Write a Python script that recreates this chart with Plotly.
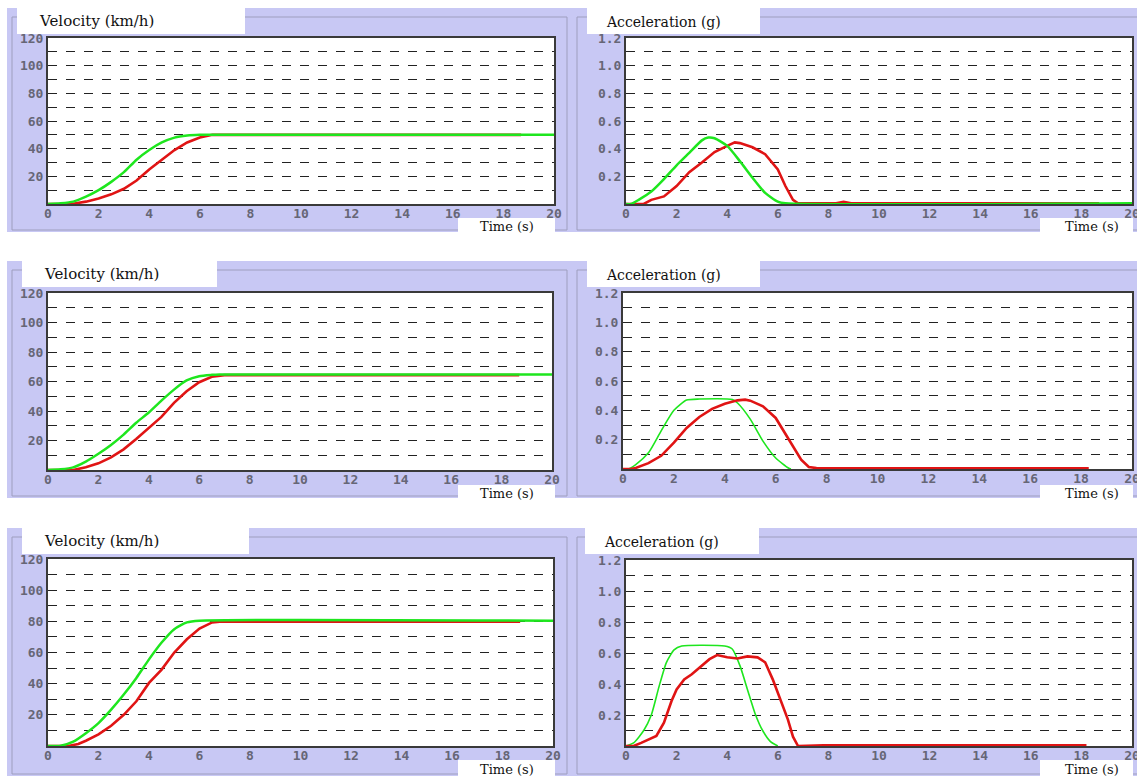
import plotly.graph_objects as go

W, H = 1137, 776

# ---------------- data ----------------
time_ticks = list(range(0, 21, 2))
vel_ticks = [20, 40, 60, 80, 100, 120]
acc_ticks = [0.2, 0.4, 0.6, 0.8, 1.0, 1.2]
acc_ticklabels = ["0.2", "0.4", "0.6", "0.8", "1.0", "1.2"]

# Row 1 (50 km/h)
t_v1_green = [0, 0.5, 1, 1.5, 2, 2.5, 3, 3.5, 4, 4.5, 5, 5.5, 6, 6.5, 20]
v1_green = [0, 0.5, 1.7, 5.3, 10, 16, 23, 32, 39, 44.5, 48, 49.5, 50, 50, 50]
t_v1_red = [0, 1, 1.5, 2, 2.5, 3, 3.5, 4, 4.5, 5, 5.5, 6, 6.5, 18.7]
v1_red = [0, 0.2, 1.7, 4, 7, 11, 17, 25, 32, 39, 44.5, 48, 50, 50]
t_a1_green = [0, 0.2, 0.5, 1, 1.5, 2, 2.5, 3, 3.25, 3.5, 4, 4.5, 5, 5.5, 6, 6.3, 20]
a1_green = [0, 0, 0.03, 0.09, 0.18, 0.28, 0.37, 0.46, 0.48, 0.475, 0.42, 0.31, 0.19, 0.08, 0.017, 0.005, 0.005]
t_a1_red = [0, 0.7, 1, 1.5, 2, 2.5, 3, 3.5, 4, 4.3, 4.5, 5, 5.5, 6, 6.3, 6.6, 6.8, 8.3, 8.6, 8.9, 18.7]
a1_red = [0, 0, 0.03, 0.055, 0.13, 0.23, 0.30, 0.375, 0.42, 0.445, 0.44, 0.41, 0.36, 0.25, 0.13, 0.03, 0.005, 0.005, 0.015, 0.005, 0.005]

# Row 2 (64 km/h)
t_v2_green = [0, 0.5, 1, 1.5, 2, 2.5, 3, 3.5, 4, 4.5, 5, 5.5, 6, 6.5, 6.8, 20]
v2_green = [0, 0.5, 1.8, 5.7, 11, 17, 24, 32, 39, 47, 54.5, 60.7, 63.6, 64.5, 64.8, 64.8]
t_v2_red = [0, 1, 1.5, 2, 2.5, 3, 3.5, 4, 4.5, 5, 5.5, 6, 6.5, 7, 7.2, 18.7]
v2_red = [0, 0, 1.8, 4.5, 8.6, 14, 21, 28.4, 36, 45.5, 53.4, 59.5, 63.2, 64.3, 64.3, 64.3]
t_a2_green = [0, 0.2, 0.5, 1, 1.5, 2, 2.5, 3, 4.3, 4.5, 5, 5.5, 6, 6.5, 6.6]
a2_green = [0, 0, 0.03, 0.11, 0.26, 0.40, 0.47, 0.477, 0.473, 0.45, 0.34, 0.19, 0.075, 0.007, 0]
t_a2_red = [0, 0.3, 0.5, 1, 1.5, 2, 2.5, 3, 3.5, 4, 4.5, 4.8, 5, 5.5, 6, 6.5, 7, 7.3, 7.6, 8, 18.3]
a2_red = [0, 0, 0.007, 0.04, 0.09, 0.18, 0.28, 0.355, 0.41, 0.445, 0.468, 0.473, 0.466, 0.427, 0.348, 0.21, 0.064, 0.014, 0.006, 0.005, 0.005]

# Row 3 (80 km/h)
t_v3_green = [0, 0.5, 1, 1.5, 2, 2.5, 3, 3.5, 4, 4.5, 5, 5.5, 6, 20]
v3_green = [0, 0.2, 2.8, 8.2, 14.7, 23.3, 33, 43.7, 55.6, 66.4, 75, 79.3, 80.4, 80.4]
t_v3_red = [0, 0.8, 1.2, 1.5, 2, 2.5, 3, 3.5, 4, 4.5, 5, 5.5, 6, 6.5, 6.8, 18.7]
v3_red = [0, 0, 1.3, 3.4, 7.5, 13, 20, 28.7, 40.5, 49, 60, 68.5, 75.4, 79.3, 79.8, 79.8]
t_a3_green = [0, 0.3, 0.7, 1.0, 1.3, 1.6, 1.9, 2.2, 3.9, 4.2, 4.5, 4.8, 5.1, 5.4, 5.7, 6.0]
a3_green = [0, 0.02, 0.10, 0.20, 0.38, 0.54, 0.62, 0.645, 0.645, 0.626, 0.52, 0.365, 0.21, 0.10, 0.03, 0]
t_a3_red = [0, 0.3, 0.6, 1.0, 1.2, 1.5, 1.8, 2.0, 2.3, 2.6, 3.0, 3.3, 3.6, 4.0, 4.4, 4.8, 5.2, 5.5, 5.8, 6.1, 6.4, 6.6, 6.8, 7.8, 18.2]
a3_red = [0, 0, 0.02, 0.05, 0.065, 0.15, 0.29, 0.365, 0.43, 0.463, 0.517, 0.56, 0.587, 0.572, 0.565, 0.578, 0.572, 0.54, 0.43, 0.30, 0.17, 0.06, 0, 0.005, 0.005]

panel_titles = ["Velocity (km/h)", "Acceleration (g)"]
xaxis_title = "Time (s)"

# ---------------- styling ----------------
LAV = "#c8c8f4"
RED = "#e01414"
GREEN = "#1ee61e"
TICKFONT = dict(family="DejaVu Sans Mono", size=13, color="#666676", weight="bold")
SERIF = "DejaVu Serif"


def px_x(x):
    return x / W


def px_y(y):
    return 1 - y / H


# panel plot areas: (left, right, top, bottom) in pixels
areas = [
    (48, 554, 38, 204), (626, 1132, 38, 204),
    (48, 552, 293, 470), (623, 1132, 293, 469),
    (48, 553, 559, 746), (626, 1132, 560, 746),
]

series = [
    (t_v1_red, v1_red, t_v1_green, v1_green, "v"),
    (t_a1_red, a1_red, t_a1_green, a1_green, "a"),
    (t_v2_red, v2_red, t_v2_green, v2_green, "v"),
    (t_a2_red, a2_red, t_a2_green, a2_green, "a"),
    (t_v3_red, v3_red, t_v3_green, v3_green, "v"),
    (t_a3_red, a3_red, t_a3_green, a3_green, "a"),
]
green_widths = [2.5, 2.5, 2.5, 1.6, 2.5, 1.6]
draw_green_first = [False, False, False, True, False, True]

fig = go.Figure()
layout = dict(
    width=W, height=H, margin=dict(l=0, r=0, t=0, b=0, pad=0), autosize=False,
    paper_bgcolor="white", plot_bgcolor="white", showlegend=False,
)

for i, ((l, r, t, b), (tr, yr, tg, yg, kind)) in enumerate(zip(areas, series)):
    n = "" if i == 0 else str(i + 1)
    xa, ya = "x" + n, "y" + n
    red_tr = go.Scatter(x=tr, y=yr, mode="lines", line=dict(color=RED, width=2.6),
                        xaxis=xa, yaxis=ya, hoverinfo="skip")
    green_tr = go.Scatter(x=tg, y=yg, mode="lines", line=dict(color=GREEN, width=green_widths[i], shape="spline", smoothing=0.6),
                          xaxis=xa, yaxis=ya, hoverinfo="skip")
    if draw_green_first[i]:
        fig.add_trace(green_tr)
        fig.add_trace(red_tr)
    else:
        fig.add_trace(red_tr)
        fig.add_trace(green_tr)

    layout["xaxis" + n] = dict(
        domain=[px_x(l), px_x(r)], anchor=ya, range=[0, 20], automargin=False,
        tickvals=time_ticks, tickfont=TICKFONT, showgrid=False, zeroline=False,
        showline=True, linecolor="#3a3a3a", linewidth=2, mirror=True, ticks="",
        ticklabelstandoff=-4, ticklabeloverflow="allow", fixedrange=True,
    )
    if kind == "v":
        yax = dict(range=[0, 120], tickvals=vel_ticks, minor=dict(dtick=10, showgrid=True, gridcolor="#222", griddash="dash", gridwidth=1))
    else:
        yax = dict(range=[0, 1.2], tickvals=acc_ticks, ticktext=acc_ticklabels, minor=dict(dtick=0.1, showgrid=True, gridcolor="#222", griddash="dash", gridwidth=1))
    yax.update(
        domain=[px_y(b), px_y(t)], anchor=xa, tickfont=TICKFONT, automargin=False,
        showgrid=True, gridcolor="#222", griddash="dash", gridwidth=1,
        zeroline=False, showline=True, linecolor="#3a3a3a", linewidth=2, mirror=True,
        ticks="", ticklabeloverflow="allow", fixedrange=True,
    )
    layout["yaxis" + n] = yax

fig.update_layout(**layout)

shapes = []
annotations = []


def rect(x0, y0, x1, y1, fill=None, line=None, lw=1, layer="below"):
    shapes.append(dict(
        type="rect", xref="paper", yref="paper",
        x0=px_x(x0), x1=px_x(x1), y0=px_y(y1), y1=px_y(y0),
        fillcolor=fill if fill else "rgba(0,0,0,0)",
        line=dict(color=line if line else "rgba(0,0,0,0)", width=lw if line else 0),
        layer=layer,
    ))


def text(x, y, s, size, anchor="left"):
    annotations.append(dict(
        xref="paper", yref="paper", x=px_x(x), y=px_y(y), text=s, showarrow=False,
        xanchor=anchor, yanchor="middle",
        font=dict(family=SERIF, size=size, color="#111"),
    ))


bands = [(8, 232), (261, 498), (528, 776)]
title_tabs = [
    ((17, 245), (587, 760)),
    ((22, 217), (587, 760)),
    ((22, 249), (585, 759)),
]
time_y = [(218, 233), (485, 500), (760, 776)]

for (top, bot), ((lt0, lt1), (rt0, rt1)), (ty0, ty1) in zip(bands, title_tabs, time_y):
    rect(7, top, W, bot, fill=LAV)
    # inner frames
    rect(12, top + 9, 567, bot - 2, line="#9e9ebe", lw=1)
    rect(577, top + 9, W + 2, bot - 2, line="#9e9ebe", lw=1)
    # title tabs
    rect(lt0, top, lt1, top + 26, fill="white")
    rect(rt0, top, rt1, top + 26, fill="white")
    text(lt0 + 20, top + 13, panel_titles[0], 15)
    text(rt0 + 17, top + 14, panel_titles[1], 14)
    # time boxes
    rect(458, ty0, 555, ty1, fill="white")
    rect(1040, ty0, 1133, ty1, fill="white")
    text(507, (ty0 + ty1) / 2 + 1, xaxis_title, 13, anchor="center")
    text(1092, (ty0 + ty1) / 2 + 1, xaxis_title, 13, anchor="center")

# white plot backgrounds on top of the lavender bands
for (l, r, t, b) in areas:
    rect(l, t, r, b, fill="white")

fig.update_layout(shapes=shapes, annotations=annotations)
fig.write_html(
    "out.html",
    config={"displayModeBar": False, "staticPlot": True},
    post_script="document.body.style.margin='0';document.body.style.overflow='hidden';",
)
